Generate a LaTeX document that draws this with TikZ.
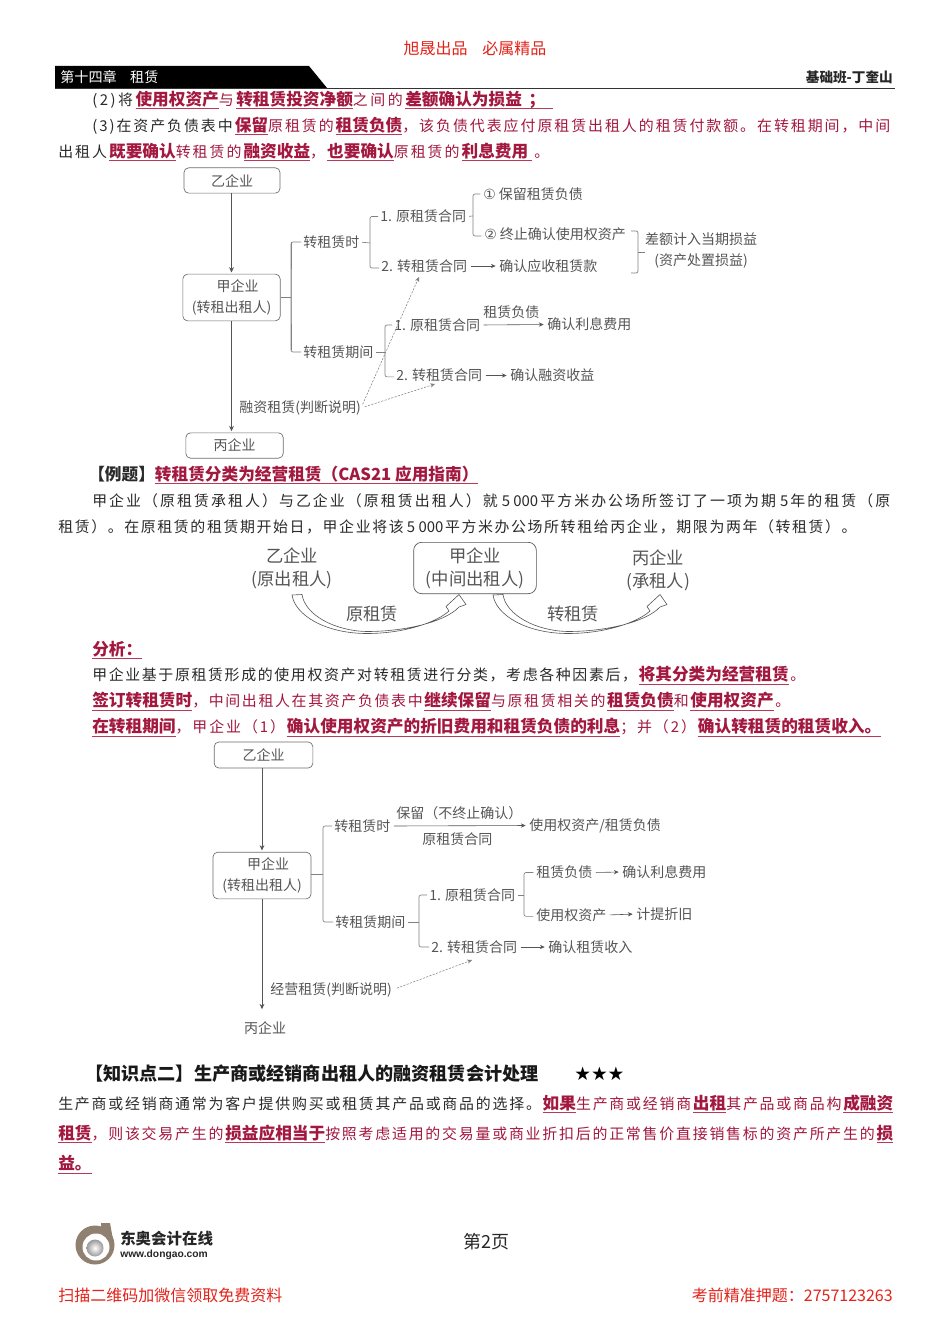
\documentclass[tikz,border=0pt]{standalone}
\usepackage{fontspec}
\setmainfont{Noto Sans CJK SC}
\newfontfamily\latf{Liberation Sans}
\newfontfamily\djv{DejaVu Sans}
\usetikzlibrary{arrows.meta,calc}
\definecolor{hlc}{HTML}{A3183F}
\definecolor{hll}{HTML}{B8385A}
\definecolor{redt}{HTML}{E2231A}
\definecolor{dgm}{HTML}{555555}
\definecolor{bodyc}{HTML}{2A2A2A}
\def\spr#1{\sprx#1\relax}
\def\sprx#1{\ifx#1\relax\else#1\hfil\expandafter\sprx\fi}
\newcommand\hlt[1]{\setbox0\hbox{\fontsize{12.5}{15}\selectfont\bfseries\color{hlc}#1}\rlap{\color{hll}\rule[-2.9pt]{\wd0}{0.7pt}}\box0 }
\newcommand\bline[5]{\node[bodyl] (#1) at (#2,#4) {\hbox to \dimexpr 0.75pt*\numexpr #3-#2\relax\relax{#5}};}
\tikzset{
 x=0.75pt,y=-0.75pt,
 bodyl/.style={anchor=west,inner sep=0pt,text=bodyc,font=\fontsize{11.2}{14}\selectfont},
 lbl/.style={anchor=west,inner sep=0pt,text=dgm,font=\fontsize{10.5}{15.75}\selectfont},
 bx/.style={draw=gray!85!black,line width=0.5pt,rounded corners=3.5pt,inner sep=0pt,align=center,text=dgm,font=\fontsize{10.5}{15.75}\selectfont},
 conn/.style={draw=gray,line width=0.5pt,rounded corners=1.5pt},
 arw/.style={draw=dgm,line width=0.45pt,-{Stealth[length=3.6pt,width=3.2pt]},shorten <=2.5pt,shorten >=2.5pt},
 varw/.style={draw=dgm,line width=0.5pt,-{Stealth[length=4pt,width=3.6pt]},shorten >=1pt},
 dsh/.style={draw=gray,line width=0.4pt,dash pattern=on 1.6pt off 1pt,-{Stealth[length=3.6pt,width=3.2pt]}},
 big/.style={anchor=center,inner sep=0pt,align=center,text=dgm,font=\fontsize{13}{17.25}\selectfont},
 hollow/.style={draw=dgm,line width=0.45pt,fill=white,line join=miter},
 redl/.style={inner sep=0pt,text=redt,font=\fontsize{12}{15}\selectfont},
}
\begin{document}
\begin{tikzpicture}
\useasboundingbox[fill=white] (0,0) rectangle (950,1344);
% header
\node[redl,anchor=center] (top) at (475,48) {旭晟出品\hspace{11pt}必属精品};
\fill[black] (55,66) -- (309,66) -- (327,88) -- (55,88) -- cycle;
\draw[black!80,line width=0.7pt] (55,88.5) -- (895,88.5);
\node[anchor=west,inner sep=0pt,text=white,font=\fontsize{10.6}{13}\selectfont] (chap) at (60,77) {第十四章\hspace{10pt}租赁};
\node[anchor=east,inner sep=0pt,text=black!85,font=\fontsize{10.2}{13}\selectfont\bfseries] (teach) at (893,77) {基础班-丁奎山};
% upper text
\bline{l1}{92}{553}{100}{\spr{(2)将}\hlt{使用权资产}\spr{与}\hlt{转租赁投资净额}\spr{之间的}\hlt{差额确认为损益\hspace{5pt}；\hspace{6pt}}}
\bline{l2}{92}{892}{126}{\spr{(3)在资产负债表中}\hlt{保留}\spr{原租赁的}\hlt{租赁负债}\spr{，该负债代表应付原租赁出租人的租赁付款额。在转租期间，中间}}
\bline{l3}{58}{549}{152}{\spr{出租人}\hlt{既要确认}\spr{转租赁的}\hlt{融资收益}\spr{，}\hlt{也要确认}\spr{原租赁的}\hlt{利息费用\hspace{3pt}}\hfil 。}
% diagram 1
\node[bx,minimum width=72pt,minimum height=19pt] (y1) at (232,180.5) {乙企业};
\node[bx,minimum width=73pt,minimum height=35pt] (j1) at (231.5,297.5) {\hspace*{9pt}甲企业\\(转租出租人)};
\node[bx,minimum width=73pt,minimum height=19pt] (b1) at (234.5,445.5) {丙企业};
\draw[varw] (y1.south -| j1.south) -- (j1.north);
\draw[varw] (j1.south) -- (j1.south |- b1.north);
\node[lbl] (n1) at (303,242) {转租赁时};
\node[lbl] (n2) at (303,352) {转租赁期间};
\node[lbl] (n3) at (380,216.5) {1. 原租赁合同};
\node[lbl] (n4) at (381,266) {2. 转租赁合同};
\node[lbl] (n5) at (483,194) {{\djv ①} 保留租赁负债};
\node[lbl] (n6) at (484,234) {{\djv ②} 终止确认使用权资产};
\node[lbl] (n7) at (499,266) {确认应收租赁款};
\node[lbl,anchor=center,align=center] (n8) at (701,250.5) {差额计入当期损益\\(资产处置损益)};
\node[lbl] (n9) at (394,325) {1. 原租赁合同};
\node[lbl] (n10) at (483,312) {租赁负债};
\node[lbl] (n11) at (547,324.5) {确认利息费用};
\node[lbl] (n12) at (396,375.5) {2. 转租赁合同};
\node[lbl] (n13) at (510,375.5) {确认融资收益};
\node[lbl] (n14) at (239,408) {融资租赁(判断说明)};
\coordinate (c1) at (291,297);
\coordinate (c2) at (370,243);
\coordinate (c3) at (473,216);
\coordinate (c4) at (385,352);
\coordinate (c5) at (638,252);
\coordinate (p1) at (631,231);
\coordinate (p2) at (631,273);
\coordinate (q1) at (419,277);
\coordinate (q2) at (435,384);
\draw[conn] (j1.east |- c1) -- (c1);
\draw[conn,shorten >=1.5pt] (c1 |- n1.west) -- (c1) -- (c1 |- n2.west);
\draw[conn,shorten >=1.5pt,shorten <=1.5pt] (n1.west) -| (c1) |- (n2.west);
\draw[conn,shorten <=2pt] (n1.east) -- (c2);
\draw[conn,shorten >=1.5pt,shorten <=1.5pt] (n3.west) -| (c2) |- ([yshift=-1.5pt]n4.west);
\draw[conn,shorten <=2pt] (n3.east) -- (c3);
\draw[conn,shorten >=2pt,shorten <=2pt] (n5.west) -| (c3) |- ([yshift=-1.5pt]n6.west);
\draw[conn] (p1) -| (c5) |- (p2);
\draw[conn] (c5) -- (n8.west |- c5);
\draw[arw,yshift=-1pt] (n4.east) -- (n7.west);
\draw[conn,shorten <=2pt] (n2.east) -- (c4);
\draw[conn,shorten >=1.5pt,shorten <=1.5pt] (n9.west) -| (c4) |- ([yshift=-1pt]n12.west);
\draw[arw] (n9.east) -- (n11.west);
\draw[arw,yshift=-1pt] (n12.east) -- (n13.west);
\draw[dsh,shorten <=3pt] (n14.east) -- (q1);
\draw[dsh,shorten <=3pt] (n14.east) -- (q2);
% example
\bline{e1}{88}{465}{475}{\hbox{\fontsize{12.5}{15}\selectfont\bfseries 【例题】}\hlt{转租赁分类为经营租赁（CAS21 应用指南）}\hfil}
\bline{e2}{92}{892}{500.5}{\spr{甲企业（原租赁承租人）与乙企业（原租赁出租人）就}\hfil 5~000\hfil\spr{平方米办公场所签订了一项为期}\hfil 5\hfil\spr{年的租赁（原}}
\bline{e3}{58}{858}{526.5}{\spr{租赁）。在原租赁的租赁期开始日，甲企业将该}\hfil 5~000\hfil\spr{平方米办公场所转租给丙企业，期限为两年（转租赁）。}}
% middle diagram
\node[big] (m1) at (292,568.5) {乙企业\\(原出租人)};
\node[draw=dgm,line width=0.5pt,rounded corners=6pt,minimum width=92pt,minimum height=38.5pt,big] (m2) at (475,568) {甲企业\\(中间出租人)};
\node[big] (m3) at (658,570.5) {丙企业\\(承租人)};
\node[big] (m4) at (372,614) {原租赁};
\node[big] (m5) at (573,614) {转租赁};
\path[hollow] (292,595) .. controls (295,615) and (325,633.5) .. (367,633.5) .. controls (405,633.5) and (437,622) .. (449,611) -- (446,606.5) -- (459,594.5) -- (466,604.5) -- (459,607) .. controls (445,622) and (405,631.5) .. (367,631.5) .. controls (335,631) and (305,615) .. (302,594.5) -- cycle;
\begin{scope}[xshift=150.75pt]
\path[hollow] (292,595) .. controls (295,615) and (325,633.5) .. (367,633.5) .. controls (405,633.5) and (437,622) .. (449,611) -- (446,606.5) -- (459,594.5) -- (466,604.5) -- (459,607) .. controls (445,622) and (405,631.5) .. (367,631.5) .. controls (335,631) and (305,615) .. (302,594.5) -- cycle;
\end{scope}
% analysis
\bline{a0}{92}{142}{650}{\hlt{分析：}\hfil}
\bline{a1}{92}{805}{675.5}{\spr{甲企业基于原租赁形成的使用权资产对转租赁进行分类，考虑各种因素后，}\hlt{将其分类为经营租赁}\hfil 。}
\bline{a2}{92}{790}{701.5}{\hlt{签订转租赁时}\spr{，中间出租人在其资产负债表中}\hlt{继续保留}\spr{与原租赁相关的}\hlt{租赁负债}\spr{和}\hlt{使用权资产}\hfil 。}
\bline{a3}{92}{881}{727.5}{\hlt{在转租期间}\spr{，甲企业（1）}\hlt{确认使用权资产的折旧费用和租赁负债的利息}\spr{；并（2）}\hlt{确认转租赁的租赁收入。}}
% diagram 2
\node[bx,minimum width=74pt,minimum height=19.5pt] (y2) at (263.5,755) {乙企业};
\node[bx,minimum width=73.5pt,minimum height=35pt] (j2) at (262,875.5) {\hspace*{9pt}甲企业\\(转租出租人)};
\node[lbl,anchor=center] (b2) at (265,1028) {丙企业};
\draw[varw] (y2.south -| j2.south) -- (j2.north);
\draw[varw,shorten >=9pt] (j2.south) -- (j2.south |- b2.north);
\node[lbl] (r1) at (334,826) {转租赁时};
\node[lbl] (r2) at (335,922) {转租赁期间};
\node[lbl] (r3) at (396,813) {保留（不终止确认）};
\node[lbl] (r4) at (422,839) {原租赁合同};
\node[lbl] (r5) at (529,825.5) {使用权资产/租赁负债};
\node[lbl] (r6) at (429,895) {1. 原租赁合同};
\node[lbl] (r7) at (431,947) {2. 转租赁合同};
\node[lbl] (r8) at (536,872.5) {租赁负债};
\node[lbl] (r9) at (536,915) {使用权资产};
\node[lbl] (r10) at (622,872) {确认利息费用};
\node[lbl] (r11) at (636,914) {计提折旧};
\node[lbl] (r12) at (548,947) {确认租赁收入};
\node[lbl] (r13) at (270,990) {经营租赁(判断说明)};
\coordinate (d1) at (323,874);
\coordinate (d2) at (419,922);
\coordinate (d3) at (524,895);
\coordinate (q3) at (472,960);
\draw[conn] (j2.east |- d1) -- (d1);
\draw[conn,shorten >=1.5pt,shorten <=1.5pt] (r1.west) -| (d1) |- (r2.west);
\draw[conn,shorten <=2pt] (r2.east) -- (d2);
\draw[conn,shorten >=1.5pt,shorten <=1.5pt] (r6.west) -| (d2) |- (r7.west);
\draw[conn,shorten <=2pt] (r6.east) -- (d3);
\draw[conn,shorten >=2pt,shorten <=2pt] (r8.west) -| (d3) |- ([yshift=-1pt]r9.west);
\draw[arw] (r1.east) -- (r5.west);
\draw[arw] (r8.east) -- (r10.west);
\draw[arw] (r9.east) -- (r11.west);
\draw[arw] (r7.east) -- (r12.west);
\draw[dsh,shorten <=4pt] (r13.east) -- (q3);
% knowledge point
\node[anchor=west,inner sep=0pt,text=black!90,font=\fontsize{13.6}{16}\selectfont\bfseries] (k0) at (85,1074) {【知识点二】生产商或经销商出租人的融资租赁会计处理};
\node[anchor=west,inner sep=0pt,text=black,font=\fontsize{14}{16}\selectfont\djv] (k1) at (574,1074) {★★★};
\bline{k2}{58}{893}{1104}{\spr{生产商或经销商通常为客户提供购买或租赁其产品或商品的选择。}\hlt{如果}\spr{生产商或经销商}\hlt{出租}\spr{其产品或商品构}\hlt{成融资}}
\bline{k3}{58}{893}{1134}{\hlt{租赁}\spr{，则该交易产生的}\hlt{损益应相当于}\spr{按照考虑适用的交易量或商业折扣后的正常售价直接销售标的资产所产生的}\hlt{损}}
\bline{k4}{58}{91}{1164.5}{\hlt{益。}\hfil}
% footer
\fill[gray!75!brown] (95,1245) circle[radius=19.5];
\fill[gray!75!brown] (101,1223) -- (110,1223) -- (114,1245) -- (101,1240) -- cycle;
\fill[white] (96,1247) circle[radius=13.5];
\shade[inner color=white,outer color=gray!80] (95,1248) circle[radius=8.5];
\node[anchor=west,inner sep=0pt,text=black!85,font=\fontsize{11.6}{14}\selectfont\bfseries] (lg1) at (120,1239) {东奥会计在线};
\node[anchor=west,inner sep=0pt,text=black!85,font=\fontsize{7.7}{10}\selectfont\latf\bfseries] (lg2) at (120,1254.5) {www.dongao.com};
\node[anchor=center,inner sep=0pt,text=black!85,font=\fontsize{13.5}{16}\selectfont] (pg) at (486,1242) {第2页};
\node[redl,anchor=west] (f1) at (58,1295) {扫描二维码加微信领取免费资料};
\node[redl,anchor=east] (f2) at (893,1295) {考前精准押题：2757123263};
\end{tikzpicture}
\end{document}
